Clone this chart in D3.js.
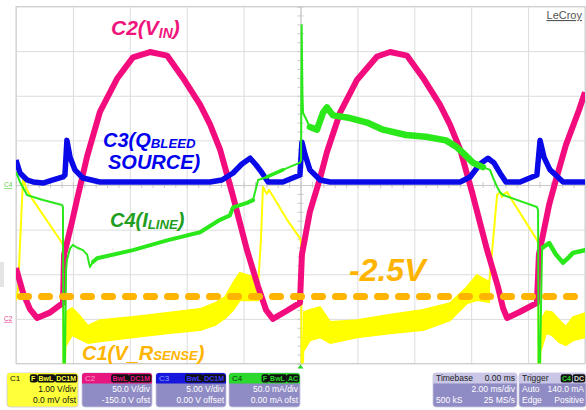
<!DOCTYPE html>
<html><head><meta charset="utf-8">
<script src="https://cdn.jsdelivr.net/npm/d3@7"></script>
<style>body{margin:0;background:#fff}svg{display:block;font-family:"Liberation Sans",Arial,sans-serif}</style>
</head><body><svg id="c" width="586" height="410"></svg>
<script>
// ---------- DATA (time in ms, values in channel units) ----------
// C2 (V_IN), volts
const c2Trace = [[-10.0,57],[-9.75,29],[-9.51,11],[-9.26,1],[-8.81,7],[-8.35,18],[-8.31,72],[-8.21,85],[-8.03,109],[-7.86,133],[-7.50,182],[-7.05,232],[-6.45,269],[-5.89,293],[-5.29,299],[-4.69,295],[-4.13,270],[-3.53,240],[-3.18,218],[-2.83,190],[-2.41,142],[-1.88,77],[-1.49,36],[-1.21,10],[-0.97,0],[-0.54,8],[-0.02,18],[0.05,72],[0.33,120],[0.69,158],[0.93,187],[1.39,231],[1.99,268],[2.69,294],[3.15,299],[3.74,295],[4.31,270],[4.90,240],[5.25,218],[5.61,190],[6.03,142],[6.56,77],[6.94,36],[7.12,12],[7.26,1],[7.72,8],[8.31,18],[8.38,72],[8.74,128],[8.98,156],[9.33,195],[9.79,234],[10.0,254]];
// C3 (Q_BLEED source), volts
const c3Trace = [[-10.0,2.8],[-9.86,1.35],[-9.61,0.56],[-9.40,0.34],[-9.05,0.22],[-8.81,0.45],[-8.35,0.9],[-8.28,1.12],[-8.21,5.0],[-8.10,3.1],[-7.93,1.7],[-7.65,0.78],[-7.05,0.34],[-3.18,0.34],[-2.76,0.56],[-2.37,1.35],[-2.06,2.35],[-1.77,3.0],[-1.56,2.24],[-1.35,1.35],[-1.14,0.34],[-0.62,0.34],[-0.02,1.12],[0.05,4.8],[0.16,3.4],[0.33,1.7],[0.69,0.56],[1.04,0.34],[5.61,0.34],[5.96,0.9],[6.31,2.35],[6.59,3.0],[6.80,2.47],[7.01,1.35],[7.22,0.34],[7.72,0.34],[8.31,1.12],[8.42,5.0],[8.56,3.1],[8.77,1.7],[9.23,0.34],[10.0,0.34]];
// C4 (I_LINE), mA
const c4Trace = [[-10.0,14.6],[-9.86,3.4],[-9.61,-11.2],[-9.51,-12.3],[-9.05,-16.8],[-8.38,-22.4],[-8.35,-24.7],[-8.33,-215],[-8.28,-200],[-8.24,-95],[-8.21,-84],[-8.10,-71],[-8.00,-67],[-7.86,-70],[-7.65,-73],[-7.50,-78],[-7.40,-92],[-7.29,-86],[-7.15,-82],[-5.89,-73],[-4.69,-62],[-3.53,-53],[-2.83,-39],[-2.48,-34],[-2.37,-25],[-1.88,-20],[-1.67,-17],[-1.49,5.6],[-1.18,9],[-0.62,17],[-0.02,25],[0.02,28],[0.04,179],[0.07,100],[0.09,81],[0.33,65],[0.58,62],[0.79,81],[0.93,87],[1.14,78],[1.74,75],[2.34,70],[2.90,62],[3.71,56],[4.41,54],[5.11,50],[5.47,43],[5.71,36],[6.06,25],[6.41,20],[6.66,17],[6.77,8],[6.91,-2.2],[7.01,-7.8],[7.12,-11.2],[8.31,-24.7],[8.35,-28],[8.37,-215],[8.42,-200],[8.49,-73],[8.52,-70],[8.74,-65],[8.98,-78],[9.23,-87],[9.40,-82],[9.58,-76],[10.0,-73]];
// C1 (V_RSENSE), volts: thin edges and noisy bands [t, top, bottom]
const c1Edge0 = [[-10.0,-2.58],[-9.93,-2.35],[-9.82,-0.78],[-9.75,0.16],[-9.65,-0.07],[-9.40,-0.34],[-8.38,-1.30],[-8.35,-1.37],[-8.33,-4.3],[-8.28,-4.04],[-8.24,-3.25]];
const c1Edge1 = [[-1.49,-2.24],[-1.39,-1.23],[-1.32,-0.04],[-1.25,-0.13],[-1.18,-0.20],[-1.11,-0.11],[-1.00,-0.22],[-0.47,-0.78],[-0.02,-1.19],[0.02,-1.28],[0.04,-4.3],[0.09,-3.92],[0.12,-3.25]];
const c1Edge2 = [[6.63,-2.24],[6.77,-1.23],[6.91,-0.22],[7.01,-0.16],[7.08,-0.27],[7.15,-0.20],[7.26,-0.16],[7.72,-0.63],[8.31,-1.23],[8.35,-1.30],[8.37,-4.3],[8.42,-4.04],[8.45,-3.36]];
const c1Band0 = [[-8.24,-2.85,-3.59],[-8.03,-2.76,-3.36],[-7.82,-2.89,-3.43],[-7.47,-3.16,-3.54],[-7.05,-3.03,-3.50],[-5.89,-2.96,-3.41],[-4.69,-2.87,-3.32],[-3.53,-2.78,-3.25],[-3.01,-2.65,-3.14],[-2.65,-2.51,-2.98],[-2.37,-2.20,-2.80],[-2.13,-1.97,-2.58],[-1.67,-2.06,-2.58],[-1.49,-2.13,-2.58]];
const c1Band1 = [[0.12,-2.85,-3.70],[0.33,-2.80,-3.48],[0.69,-2.74,-3.41],[1.04,-3.07,-3.54],[1.99,-3.03,-3.41],[3.15,-2.91,-3.32],[4.31,-2.80,-3.25],[5.25,-2.65,-3.03],[5.85,-2.29,-2.65],[6.20,-2.02,-2.58],[6.63,-2.17,-2.62]];
const c1Band2 = [[8.45,-3.03,-3.70],[8.63,-2.83,-3.32],[8.84,-2.85,-3.36],[9.09,-3.03,-3.52],[9.33,-3.18,-3.59],[9.58,-2.96,-3.48],[10.0,-2.87,-3.41]];
const thresholdV = -2.5;
// status bar texts
const chanBoxes = [
  {name:"C1", tags:["F","BwL","DC1M"], rows:["1.00 V/div","0.0 mV ofst"]},
  {name:"C2", tags:["BwL","DC1M"], rows:["50.0 V/div","-150.0 V ofst"]},
  {name:"C3", tags:["BwL","DC1M"], rows:["5.00 V/div","0.00 V offset"]},
  {name:"C4", tags:["F","BwL","AC"], rows:["50.0 mA/div","0.00 mA ofst"]}];
const timebaseRows = [["Timebase","0.00 ms"],["","2.00 ms/div"],["500 kS","25 MS/s"]];
const triggerRows = [["Trigger",""],["Auto","140.0 mA"],["Edge","Positive"]];

// ---------- SETUP ----------
const svg = d3.select("#c");
const X0 = 16, X1 = 585, Y0 = 6.5, Y1 = 363.5;
const x = d3.scaleLinear().domain([-10, 10]).range([X0, X1]);
const yDiv = d3.scaleLinear().domain([-4, 4]).range([Y1, Y0]);
const chan = {C1:{perDiv:1,offset:0}, C2:{perDiv:50,offset:-150}, C3:{perDiv:5,offset:0}, C4:{perDiv:50,offset:0}};
const yOf = c => v => yDiv((v + chan[c].offset) / chan[c].perDiv);
const col = {C1:"#ffff00", C2:"#f20c7e", C3:"#0a0ae8", C4:"#2ae81a"};

svg.append("defs").append("clipPath").attr("id","plot").append("rect")
  .attr("x",X0).attr("y",Y0).attr("width",X1-X0).attr("height",Y1-Y0);

// grid via axes
const gx = svg.append("g").attr("transform",`translate(0,${Y1})`)
  .call(d3.axisBottom(x).tickValues(d3.range(-10,10.01,2)).tickSize(-(Y1-Y0)).tickFormat(""));
const gy = svg.append("g").attr("transform",`translate(${X0},0)`)
  .call(d3.axisLeft(yDiv).tickValues(d3.range(-4,4.01,1)).tickSize(-(X1-X0)).tickFormat(""));
[gx,gy].forEach(g=>{g.select(".domain").remove(); g.selectAll("line").attr("stroke","#dcdcdc").attr("stroke-width",1);});
svg.append("rect").attr("x",X0).attr("y",Y0).attr("width",X1-X0).attr("height",Y1-Y0)
  .attr("fill","none").attr("stroke","#cfcfcf");
// center lines with minor ticks
svg.append("g").attr("transform",`translate(0,${yDiv(0)})`)
  .call(d3.axisBottom(x).tickValues(d3.range(-10,10.01,0.4)).tickSize(3).tickFormat(""))
  .call(g=>{g.select(".domain").attr("stroke","#c8c8c8"); g.selectAll("line").attr("stroke","#c8c8c8").attr("y1",-3);});
svg.append("g").attr("transform",`translate(${x(0)},0)`)
  .call(d3.axisLeft(yDiv).tickValues(d3.range(-4,4.01,0.2)).tickSize(3).tickFormat(""))
  .call(g=>{g.select(".domain").attr("stroke","#c4c4c4"); g.selectAll("line").attr("stroke","#c8c8c8").attr("x1",3);});

const plot = svg.append("g").attr("clip-path","url(#plot)");

// C1 bands + edges
const y1 = yOf("C1");
const area = d3.area().x(d=>x(d[0])).y0(d=>y1(d[2])).y1(d=>y1(d[1]));
[c1Band0,c1Band1,c1Band2].forEach(b=>plot.append("path").attr("d",area(b)).attr("fill",col.C1)
  .attr("stroke",col.C1).attr("stroke-width",2).attr("stroke-linejoin","round"));
const line1 = d3.line().x(d=>x(d[0])).y(d=>y1(d[1]));
[c1Edge0,c1Edge1,c1Edge2].forEach(e=>plot.append("path").attr("d",line1(e)).attr("fill","none")
  .attr("stroke",col.C1).attr("stroke-width",2).attr("stroke-linejoin","round"));

// C2
const y2 = yOf("C2");
plot.append("path").attr("d",d3.line().x(d=>x(d[0])).y(d=>y2(d[1]))(c2Trace))
  .attr("fill","none").attr("stroke",col.C2).attr("stroke-width",6).attr("stroke-linejoin","round");

// C3
const y3 = yOf("C3");
plot.append("path").attr("d",d3.line().x(d=>x(d[0])).y(d=>y3(d[1]))(c3Trace))
  .attr("fill","none").attr("stroke",col.C3).attr("stroke-width",5.5).attr("stroke-linejoin","round");

// C4 base line + thicker noisy ranges
const y4 = yOf("C4");
const line4 = d3.line().x(d=>x(d[0])).y(d=>y4(d[1]));
plot.append("path").attr("d",line4(c4Trace)).attr("fill","none").attr("stroke",col.C4)
  .attr("stroke-width",2).attr("stroke-linejoin","round");
[[-7.35,-1.6,4],[-1.45,-0.05,3.5],[0.12,6.6,6.5],[8.5,10,4.5]].forEach(([a,b,w])=>{
  plot.append("path").attr("d",line4(c4Trace.filter(d=>d[0]>=a&&d[0]<=b))).attr("fill","none")
    .attr("stroke",col.C4).attr("stroke-width",w).attr("stroke-linejoin","round").attr("stroke-linecap","round");
});

// threshold dashed line
svg.append("line").attr("x1",x(-10)+4.5).attr("x2",586).attr("y1",y1(thresholdV)).attr("y2",y1(thresholdV))
  .attr("stroke","#ffb400").attr("stroke-width",7).attr("stroke-dasharray","8,13").attr("stroke-linecap","round");

// left ground markers
svg.append("text").attr("x",4).attr("y",yDiv(0)+2).attr("font-size",6.5).attr("fill","#5ad04a")
  .attr("text-decoration","underline").text("C4");
svg.append("text").attr("x",4).attr("y",y2(0)+2).attr("font-size",6.5).attr("fill","#e8408e")
  .attr("text-decoration","underline").text("C2");
svg.append("rect").attr("x",0).attr("y",262).attr("width",4).attr("height",25).attr("fill","#e4e4e4");
// trigger marker
svg.append("path").attr("d",`M${x(0)-3},${Y1+5}L${x(0)+3},${Y1+5}L${x(0)},${Y1+1}Z`).attr("fill","#2ad52a");

// LeCroy logo
svg.append("text").attr("x",582).attr("y",19).attr("text-anchor","end").attr("font-size",11)
  .attr("fill","#555").attr("text-decoration","underline").text("LeCroy");

// trace labels: parts = [text, subscript?, dy]
function label(xp, yp, parts, color, size){
  const t = svg.append("text").attr("x",xp).attr("y",yp).attr("fill",color)
    .attr("font-size",size).attr("font-weight","bold").attr("font-style","italic");
  parts.forEach(p=>{
    const s = t.append("tspan").text(p[0]);
    if(p[1]) s.attr("font-size",size*0.66);
    if(p[2]) s.attr("dy",p[2]);
  });
}
label(111,35,[["C2(V"],["IN",true,3],[")",false,-3]],"#f0157d",21);
label(103,147,[["C3(Q"],["BLEED",true,1]],"#0000ee",20);
label(108,169,[["SOURCE)"]],"#0000ee",20);
label(110,227,[["C4(I"],["LINE",true,2],[")",false,-2]],"#1f9e1f",20);
label(82,360,[["C1(V_R"],["SENSE",true,0],[")"]],"#ffb400",20);
label(349,281,[["-2.5V"]],"#ffb400",32);

// ---------- STATUS BAR ----------
const sb = svg.append("g");
const BY = 373, BH = 34, HH = 10.5;
function tagBox(xr, yb, str, color){
  const t = sb.append("text").attr("x",xr).attr("y",yb).attr("text-anchor","end")
    .attr("font-size",7).attr("font-weight","bold").attr("fill",color).text(str);
  const b = t.node().getBBox();
  sb.insert("rect",()=>t.node()).attr("x",b.x-1.2).attr("y",BY+1.2).attr("width",b.width+2.4)
    .attr("height",HH-2.2).attr("rx",2).attr("fill","#111");
  return b.x - 3;
}
const boxDefs = [
  {x:7, w:71, head:"#ffff3a", body:"#ffff3a", nameCol:"#111", tagCol:"#ffff3a", txt:"#111"},
  {x:82, w:70, head:"#e8177f", body:"#8f8bc4", nameCol:"#ff9fcf", tagCol:"#e8177f", txt:"#fff"},
  {x:156, w:70, head:"#1616dc", body:"#8f8bc4", nameCol:"#8f9fff", tagCol:"#3a3aff", txt:"#fff"},
  {x:229, w:71, head:"#2bd82b", body:"#8f8bc4", nameCol:"#0a3a0a", tagCol:"#2bd82b", txt:"#fff"}];
chanBoxes.forEach((c,i)=>{
  const d = boxDefs[i];
  sb.append("rect").attr("x",d.x).attr("y",BY).attr("width",d.w).attr("height",BH).attr("rx",3).attr("fill",d.body)
    .attr("stroke","#c8c6e0").attr("stroke-width",0.8);
  sb.append("path").attr("d",`M${d.x},${BY+HH}V${BY+3}Q${d.x},${BY} ${d.x+3},${BY}H${d.x+d.w-3}Q${d.x+d.w},${BY} ${d.x+d.w},${BY+3}V${BY+HH}Z`).attr("fill",d.head);
  sb.append("text").attr("x",d.x+3).attr("y",BY+8.3).attr("font-size",8).attr("fill",d.nameCol).text(c.name);
  let xr = d.x + d.w - 2;
  c.tags.slice().reverse().forEach(tg=>{ xr = tagBox(xr, BY+7.8, tg, d.tagCol); });
  c.rows.forEach((r,j)=>sb.append("text").attr("x",d.x+d.w-2).attr("y",BY+19+j*11).attr("text-anchor","end")
    .attr("font-size",8.5).attr("fill",d.txt).text(r));
});
function infoBox(x0, w, rows, tags){
  sb.append("rect").attr("x",x0).attr("y",BY).attr("width",w).attr("height",BH).attr("rx",3).attr("fill","#8f8bc4")
    .attr("stroke","#c8c6e0").attr("stroke-width",0.8);
  sb.append("path").attr("d",`M${x0},${BY+HH}V${BY+3}Q${x0},${BY} ${x0+3},${BY}H${x0+w-3}Q${x0+w},${BY} ${x0+w},${BY+3}V${BY+HH}Z`).attr("fill","#c9c6e6");
  rows.forEach((r,j)=>{
    const yb = j===0 ? BY+8.3 : BY+19+(j-1)*11;
    const fc = j===0 ? "#222" : "#fff";
    if(r[0]) sb.append("text").attr("x",x0+3).attr("y",yb).attr("font-size",8.5).attr("fill",fc).text(r[0]);
    if(r[1]) sb.append("text").attr("x",x0+w-2).attr("y",yb).attr("text-anchor","end").attr("font-size",8.5).attr("fill",fc).text(r[1]);
  });
  if(tags){ let xr = x0+w-2; tags.slice().reverse().forEach(t=>{ xr = tagBox(xr, BY+7.8, t[0], t[1]); }); }
}
infoBox(433, 84, timebaseRows);
infoBox(519, 67, triggerRows, [["C4","#2bd82b"],["DC","#ddd"]]);
</script></body></html>
